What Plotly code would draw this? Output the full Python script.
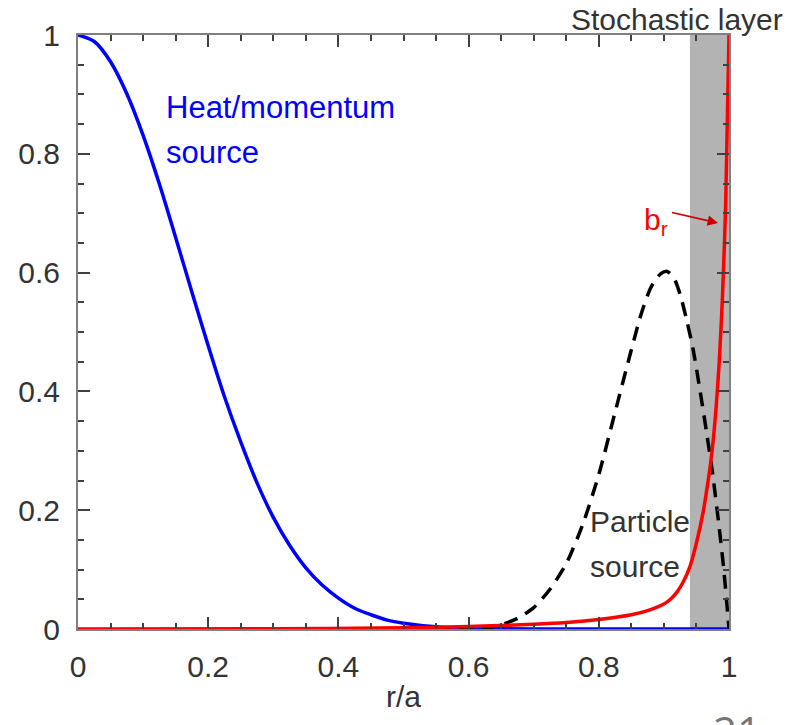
import plotly.graph_objects as go

# Heat/momentum source (blue)
r_heat = [0.0, 0.025, 0.05, 0.075, 0.1, 0.125, 0.15, 0.175, 0.2, 0.225, 0.25, 0.275, 0.3, 0.325,
          0.35, 0.375, 0.4, 0.425, 0.45, 0.475, 0.5, 0.55, 0.6, 0.7, 0.8, 0.9, 1.0]
v_heat = [1.0, 0.989, 0.955, 0.901, 0.831, 0.749, 0.659, 0.567, 0.477, 0.391, 0.315, 0.246, 0.188,
          0.141, 0.103, 0.074, 0.052, 0.035, 0.024, 0.015, 0.0098, 0.0037, 0.0013, 0.0001, 0.0, 0.0, 0.0]

# Particle source (black dashed)
r_part = [0.55, 0.6, 0.63, 0.65, 0.675, 0.7, 0.725, 0.75, 0.775, 0.8, 0.825, 0.85, 0.865, 0.88,
          0.895, 0.905, 0.915, 0.925, 0.935, 0.945, 0.955, 0.965, 0.975, 0.985, 0.992, 1.0]
v_part = [0.0, 0.0, 0.002, 0.007, 0.018, 0.036, 0.067, 0.11, 0.175, 0.26, 0.365, 0.47, 0.53, 0.575,
          0.598, 0.602, 0.592, 0.563, 0.52, 0.47, 0.405, 0.335, 0.26, 0.17, 0.1, 0.0]

# b_r (red)
r_br = [0.0, 0.3, 0.5, 0.6, 0.7, 0.75, 0.8, 0.85, 0.875, 0.9, 0.91, 0.92, 0.93, 0.94, 0.95, 0.96,
        0.965, 0.97, 0.975, 0.98, 0.985, 0.99, 0.995, 1.0]
v_br = [0.0, 0.0005, 0.002, 0.004, 0.008, 0.011, 0.016, 0.024, 0.031, 0.042, 0.05, 0.062, 0.08,
        0.105, 0.145, 0.195, 0.228, 0.265, 0.31, 0.37, 0.45, 0.56, 0.72, 1.0]

layer_x0, layer_x1 = 0.94, 1.0

x_ticks = [0, 0.2, 0.4, 0.6, 0.8, 1]
x_ticktext = ["0", "0.2", "0.4", "0.6", "0.8", "1"]
y_ticks = [0, 0.2, 0.4, 0.6, 0.8, 1]
y_ticktext = ["0", "0.2", "0.4", "0.6", "0.8", "1"]

FONT = "Liberation Sans, Arial, sans-serif"
TXT = "#333333"
FS = 30

fig = go.Figure()
fig.add_trace(go.Scatter(x=r_heat, y=v_heat, mode="lines",
                         line=dict(color="#0000ff", width=3.5, shape="spline", smoothing=0.8),
                         cliponaxis=False, showlegend=False))
fig.add_trace(go.Scatter(x=r_part, y=v_part, mode="lines",
                         line=dict(color="black", width=3.5, dash="14px,9px", shape="spline", smoothing=0.7),
                         cliponaxis=False, showlegend=False))
fig.add_trace(go.Scatter(x=r_br, y=v_br, mode="lines",
                         line=dict(color="#ff0000", width=3.5, shape="spline", smoothing=0.8),
                         cliponaxis=False, showlegend=False))

fig.add_shape(type="rect", xref="x", yref="y", x0=layer_x0, x1=layer_x1, y0=0, y1=1,
              fillcolor="#b3b3b3", line=dict(width=0), layer="below")

axis_common = dict(
    showgrid=False, zeroline=False, showline=True, linecolor="#808080", linewidth=2,
    mirror="ticks", ticks="inside", ticklen=12, tickwidth=1.5, tickcolor="#404040",
    tickfont=dict(family=FONT, size=FS, color=TXT),
    minor=dict(ticks="inside", ticklen=6, tickwidth=1.5, tickcolor="#404040", dtick=0.05),
)

fig.update_xaxes(range=[0, 1], tickvals=x_ticks, ticktext=x_ticktext, ticklabelstandoff=10,
                 title=dict(text="r/a", font=dict(family=FONT, size=FS, color=TXT), standoff=4),
                 **axis_common)
fig.update_yaxes(range=[0, 1], tickvals=y_ticks, ticktext=y_ticktext, ticklabelstandoff=10,
                 **axis_common)


def px(xp):
    return (xp - 78) / 651


def py(yp):
    return (629 - yp) / 594


ann = [
    dict(x=164, y=107, text="Heat/momentum", color="#0000ff", xanchor="left", size=31),
    dict(x=164, y=152, text="source", color="#0000ff", xanchor="left", size=31),
    dict(x=677, y=20, text="Stochastic layer", color=TXT, xanchor="center", size=FS),
    dict(x=588, y=521, text="Particle", color=TXT, xanchor="left", size=FS),
    dict(x=588, y=566, text="source", color=TXT, xanchor="left", size=FS),
    dict(x=642, y=222, text="b<sub>r</sub>", color="#ff0000", xanchor="left", size=FS),
]
for a in ann:
    fig.add_annotation(xref="paper", yref="paper", x=px(a["x"]), y=py(a["y"]),
                       text=a["text"], showarrow=False, xanchor=a["xanchor"], yanchor="middle",
                       font=dict(family=FONT, size=a["size"], color=a["color"]))

# arrow pointing at b_r curve
fig.add_annotation(xref="paper", yref="paper", x=px(718), y=py(223), ax=-48, ay=-11,
                   text=" ", showarrow=True, arrowhead=2, arrowsize=1.3, arrowwidth=1.6,
                   arrowcolor="#cc0000", standoff=0, startstandoff=0, font=dict(size=4))

# page number (cut off at the bottom edge, as in the source slide)
fig.add_annotation(xref="paper", yref="paper", x=px(737), y=py(700),
                   text="21", showarrow=False, xanchor="center", yanchor="top",
                   font=dict(family="Open Sans, sans-serif", size=42, color="#777777"))

fig.update_layout(width=789, height=725, margin=dict(l=78, r=60, t=35, b=96),
                  plot_bgcolor="white", paper_bgcolor="white", showlegend=False)

fig.write_html("out.html")
